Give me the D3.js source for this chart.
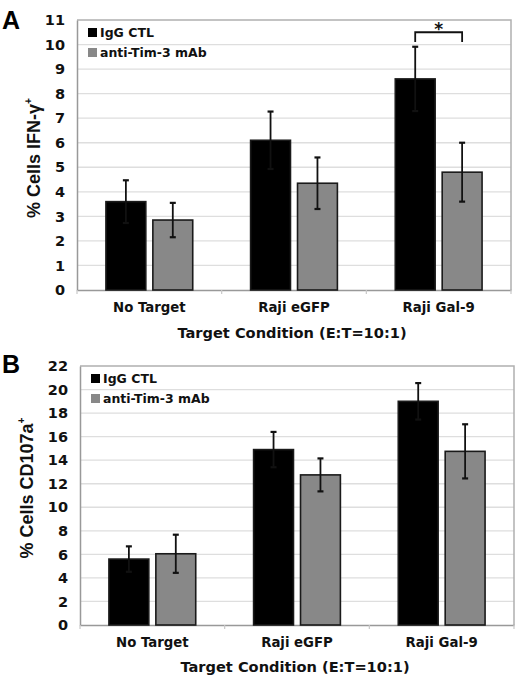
<!DOCTYPE html>
<html><head><meta charset="utf-8">
<script src="https://cdn.jsdelivr.net/npm/d3@7"></script>
<style>body{margin:0;background:#fff}svg{display:block}</style>
</head><body>
<script>
const categories = ["No Target", "Raji eGFP", "Raji Gal-9"];
const seriesNames = ["IgG CTL", "anti-Tim-3 mAb"];
const ifnIgG = [3.6, 6.1, 8.6];
const ifnIgGErr = [0.87, 1.17, 1.31];
const ifnTim3 = [2.85, 4.35, 4.8];
const ifnTim3Err = [0.7, 1.05, 1.2];
const cdIgG = [5.6, 14.9, 19.0];
const cdIgGErr = [1.08, 1.5, 1.55];
const cdTim3 = [6.05, 12.75, 14.75];
const cdTim3Err = [1.62, 1.4, 2.3];
const ifnTicks = [0,1,2,3,4,5,6,7,8,9,10,11];
const cdTicks = [0,2,4,6,8,10,12,14,16,18,20,22];
const xTitle = "Target Condition (E:T=10:1)";

const colors = ["#000000", "#888888"];
const svg = d3.select("body").append("svg").attr("width",520).attr("height",680);

function panel(o){
  const g = svg.append("g");
  const y = d3.scaleLinear().domain([0, o.max]).range([o.bottom, o.top]);
  const x = d3.scaleBand().domain(categories).range([o.left, o.right]).paddingInner(0.4).paddingOuter(0.2);
  const xs = d3.scaleBand().domain(seriesNames).range([0, x.bandwidth()]).paddingInner(0.15);
  g.selectAll(".grid").data(o.ticks.filter(t=>t>0 && t<o.max)).join("line")
    .attr("x1",o.left).attr("x2",o.right).attr("y1",d=>y(d)).attr("y2",d=>y(d))
    .attr("stroke","#dedede").attr("stroke-width",1.3);
  g.append("path").attr("d",`M${o.left},${y(o.max)}H${o.right}V${o.bottom}`)
    .attr("fill","none").attr("stroke","#b0b0b0").attr("stroke-width",1.5);
  const ya = g.append("g").attr("transform",`translate(${o.left},0)`)
    .call(d3.axisLeft(y).tickValues(o.ticks).tickSize(0).tickPadding(o.pad));
  ya.select(".domain").attr("stroke","#999").attr("stroke-width",1.5);
  ya.selectAll("text").attr("font-family","DejaVu Sans").attr("font-weight","bold").attr("font-size",14.5).attr("fill","#111");
  const xa = g.append("g").attr("transform",`translate(0,${o.bottom})`)
    .call(d3.axisBottom(x).tickSize(0).tickPadding(o.xpad));
  xa.select(".domain").attr("stroke","#999").attr("stroke-width",1.5);
  xa.selectAll("text").attr("font-family","DejaVu Sans").attr("font-weight","bold").attr("font-size",13.3).attr("fill","#111");
  const bounds = categories.map(c=>x(c)-x.step()*x.paddingInner()/2).concat([o.right]);
  g.selectAll(".bt").data(bounds).join("line")
    .attr("x1",d=>d).attr("x2",d=>d).attr("y1",o.bottom).attr("y2",o.bottom+4)
    .attr("stroke","#c8c8c8").attr("stroke-width",1.2);
  const series = [{name:seriesNames[0], v:o.a, e:o.ae},{name:seriesNames[1], v:o.b, e:o.be}];
  series.forEach((s,si)=>{
    const data = categories.map((c,i)=>({c, v:s.v[i], e:s.e[i]}));
    g.selectAll(null).data(data).join("rect")
      .attr("x",d=>x(d.c)+xs(s.name)).attr("width",xs.bandwidth())
      .attr("y",d=>y(d.v)).attr("height",d=>o.bottom-y(d.v))
      .attr("fill",colors[si]).attr("stroke","#1a1a1a").attr("stroke-width",1.6);
    const cx = d=>x(d.c)+xs(s.name)+xs.bandwidth()/2;
    g.selectAll(null).data(data).join("line")
      .attr("x1",cx).attr("x2",cx).attr("y1",d=>y(d.v+d.e)).attr("y2",d=>y(d.v-d.e))
      .attr("stroke","#111").attr("stroke-width",1.8);
    [1,-1].forEach(sg=>{
      g.selectAll(null).data(data).join("line")
        .attr("x1",d=>cx(d)-3).attr("x2",d=>cx(d)+3)
        .attr("y1",d=>y(d.v+sg*d.e)).attr("y2",d=>y(d.v+sg*d.e))
        .attr("stroke","#111").attr("stroke-width",2.2);
    });
  });
  seriesNames.forEach((n,i)=>{
    g.append("rect").attr("x",o.left+11).attr("y",o.top+8+i*20).attr("width",9).attr("height",9)
      .attr("fill",colors[i]);
    g.append("text").attr("x",o.left+23).attr("y",o.top+17+i*20).text(n)
      .attr("font-family","DejaVu Sans").attr("font-weight","bold").attr("font-size",12.5).attr("fill","#111");
  });
  g.append("text").attr("x",(o.left+o.right)/2 - 2).attr("y",o.bottom+o.tpad).attr("text-anchor","middle")
    .text(xTitle).attr("font-family","DejaVu Sans").attr("font-weight","bold").attr("font-size",14.6).attr("fill","#111");
  const yt = g.append("text").attr("transform",`translate(${o.ytx},${o.yty}) rotate(-90)`).attr("text-anchor","middle")
    .attr("font-family","Liberation Sans").attr("font-weight","bold").attr("font-size",18).attr("fill","#111");
  yt.append("tspan").text(o.ylab);
  yt.append("tspan").text("+").attr("font-size",10).attr("dy",-8);
  g.append("text").attr("x",2).attr("y",o.letterY).text(o.letter)
    .attr("font-family","Liberation Sans").attr("font-weight","bold").attr("font-size",25).attr("fill","#000");
  return {x, xs, y, g};
}

const A = panel({left:77, right:511, top:20, bottom:290, max:11, ticks:ifnTicks,
  a:ifnIgG, ae:ifnIgGErr, b:ifnTim3, be:ifnTim3Err, pad:12, xpad:13, tpad:48,
  ytx:40, yty:158, ylab:"% Cells IFN-γ", letter:"A", letterY:29});
const bx1 = A.x(categories[2]) + A.xs(seriesNames[0]) + A.xs.bandwidth()/2;
const bx2 = A.x(categories[2]) + A.xs(seriesNames[1]) + A.xs.bandwidth()/2;
A.g.append("path").attr("d",`M${bx1},${A.y(10.1)}V${A.y(10.5)}H${bx2}V${A.y(10.1)}`)
  .attr("fill","none").attr("stroke","#111").attr("stroke-width",1.8);
A.g.append("text").attr("x",(bx1+bx2)/2).attr("y",A.y(10.5)+3).attr("text-anchor","middle")
  .text("*").attr("font-family","DejaVu Sans").attr("font-weight","bold").attr("font-size",17).attr("fill","#111");

panel({left:80, right:514, top:366, bottom:625, max:22, ticks:cdTicks,
  a:cdIgG, ae:cdIgGErr, b:cdTim3, be:cdTim3Err, pad:12, xpad:13, tpad:47,
  ytx:33, yty:488, ylab:"% Cells CD107a", letter:"B", letterY:373});
</script>
</body></html>
